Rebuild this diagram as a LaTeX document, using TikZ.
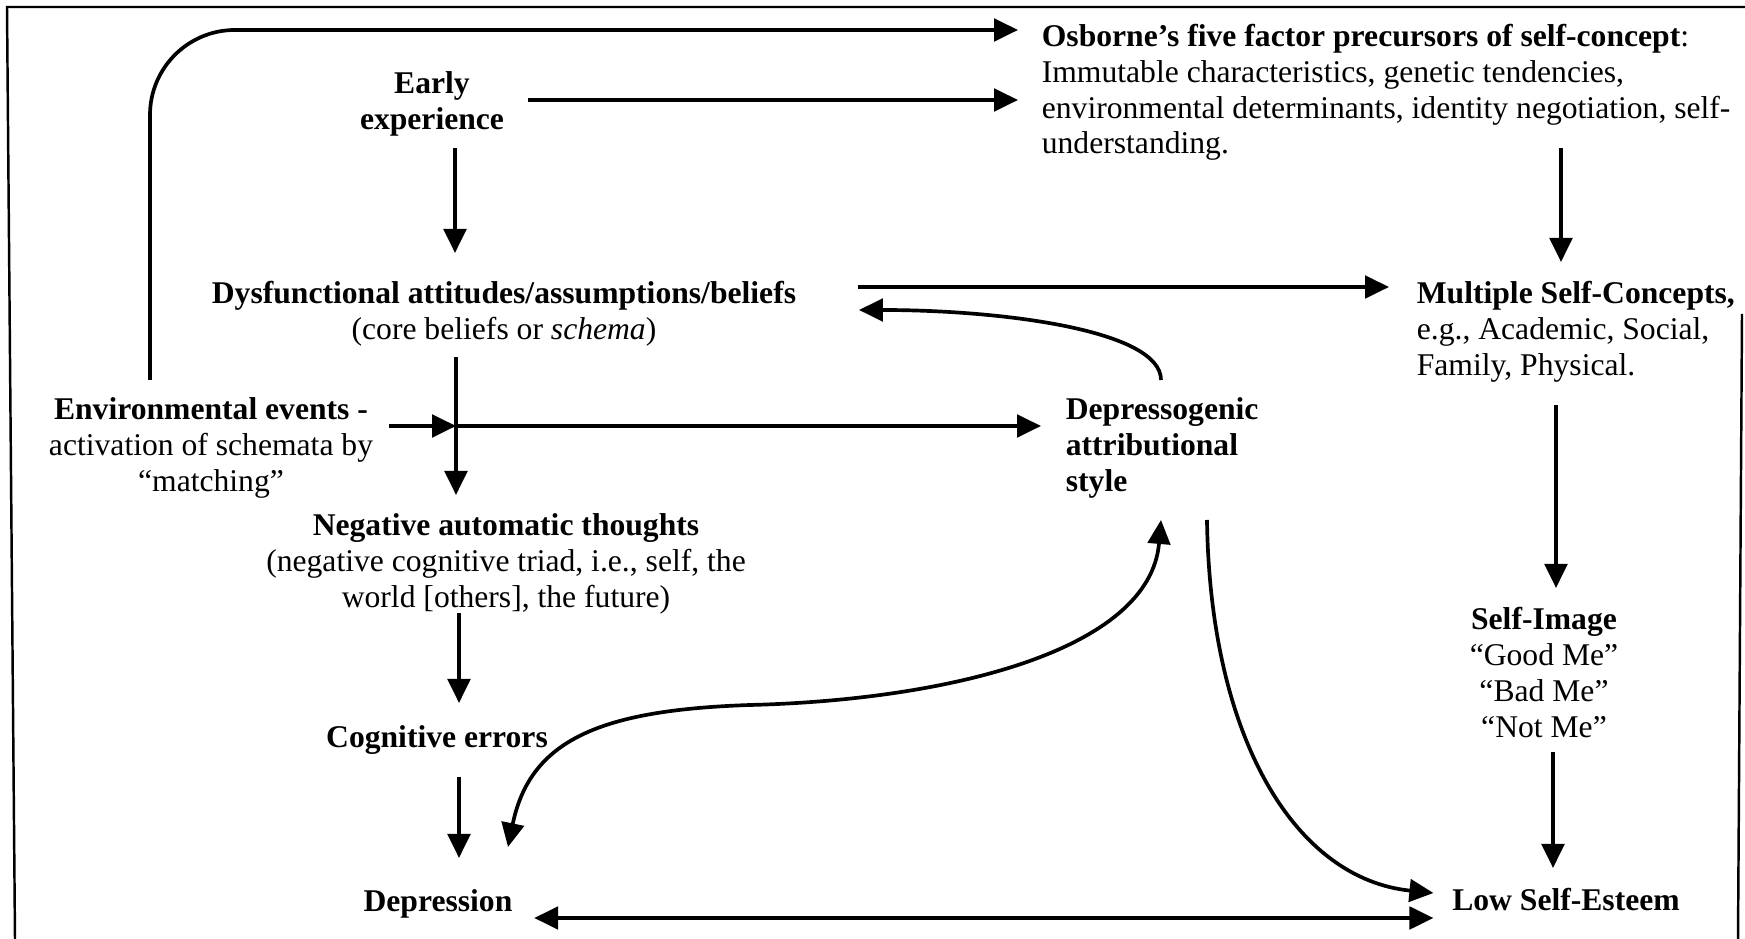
\documentclass[tikz,border=0pt]{standalone}
\usepackage{fontspec}
\setmainfont{Liberation Serif}
\usetikzlibrary{arrows.meta}

\begin{document}
\begin{tikzpicture}[x=0.02cm,y=0.02cm,->,>={Triangle[length=0.48cm,width=0.45cm]},
    line width=2.1pt,
    box/.style={inner sep=0pt,align=center,font=\fontsize{18}{20.4}\selectfont},
    lbox/.style={box,align=left,anchor=west}]

\useasboundingbox (0,0) rectangle (1745,939);

% frame
\draw[-,line width=1.4pt] (1745,932) -- (7,932) -- (15,0);
\draw[-,line width=1.4pt] (1742,625) -- (1738,0);

\node[box] (early) at (432,835) {\textbf{Early}\\\textbf{experience}};
\node[box] (dys) at (504,625.5) {\textbf{Dysfunctional attitudes/assumptions/beliefs}\\(core beliefs or \textit{schema})};
\node[box] (env) at (211,491) {\textbf{Environmental events -}\\activation of schemata by\\“matching”};
\node[box] (nat) at (506,375) {\textbf{Negative automatic thoughts}\\(negative cognitive triad, i.e., self, the\\world [others], the future)};
\node[box] (cog) at (437,199) {\textbf{Cognitive errors}};
\node[box] (dep) at (438,35) {\textbf{Depression}};
\node[lbox] (osb) at (1040,846.5) {\textbf{Osborne’s five factor precursors of self-concept}:\\Immutable characteristics, genetic tendencies,\\environmental determinants, identity negotiation, self-\\understanding.};
\node[lbox] (msc) at (1415,607.5) {\textbf{Multiple Self-Concepts,}\\e.g., Academic, Social,\\Family, Physical.};
\node[lbox] (dag) at (1064,491) {\textbf{Depressogenic}\\\textbf{attributional}\\\textbf{style}};
\node[box] (img) at (1544,266.5) {\textbf{Self-Image}\\“Good Me”\\“Bad Me”\\“Not Me”};
\node[box] (lse) at (1566,39) {\textbf{Low Self-Esteem}};

\coordinate (cross) at (456,513);

\path
  ([shift={(22,4)}]early.east) edge ([shift={(-22,-7.5)}]osb.west)
  ([shift={(23,-44)}]early.center) edge ([shift={(-49,60.5)}]dys.center)
  ([shift={(60,26.5)}]dys.east) edge ([shift={(-26,44.5)}]msc.west)
  ([shift={(-48,-43.5)}]dys.center) edge ([shift={(-50,69)}]nat.center)
  (env.east |- cross) edge[shorten <=0.28cm] (cross)
  (cross) edge ([shift={(-23,22)}]dag.west)
  ([shift={(-47,-49)}]nat.center) edge ([shift={(22,37)}]cog.center)
  ([shift={(22,-37)}]cog.center) edge ([shift={(21,46)}]dep.center)
  ([shift={(521,-55.5)}]osb.west) edge ([shift={(146,69.5)}]msc.west)
  ([shift={(141,-73.5)}]msc.west) edge ([shift={(12,84.5)}]img.center)
  ([shift={(9,-79.5)}]img.center) edge ([shift={(-13,32)}]lse.center)
  ([shift={(20,-14)}]dep.east) edge[<->] ([shift={(-17,-18)}]lse.west);

% curved ones
\draw[rounded corners=1.7cm] ([shift={(-61,68)}]env.center) |- ([shift={(-22,62.5)}]osb.west);
\draw ([shift={(97,68)}]dag.west) .. controls +(0,50) and +(142,0) .. ([shift={(61,3.5)}]dys.east);
\draw[<->] ([shift={(70,57)}]dep.center) .. controls +(22,107) and (600,229) .. (750,234)
  .. controls (950,239) and +(-11,-130) .. ([shift={(97,-72)}]dag.west);
\draw ([shift={(143,-72)}]dag.west) .. controls +(3,-219) and +(-138,14) .. ([shift={(-17,7)}]lse.west);

\end{tikzpicture}
\end{document}
